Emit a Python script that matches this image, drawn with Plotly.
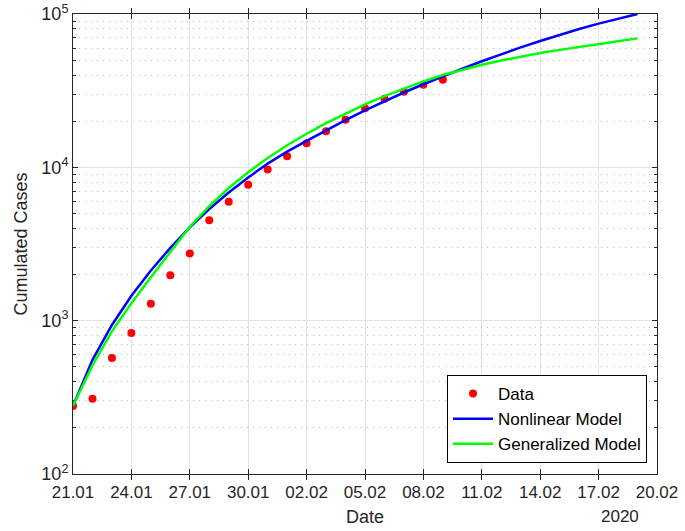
import pandas as pd
import plotly.graph_objects as go

start_date = "2020-01-21"

# Observed cumulated cases (one per day from 21.01)
data_days = list(range(20))
data_cases = [278, 309, 571, 830, 1287, 1975, 2744, 4515, 5974, 7711,
              9692, 11791, 14380, 17205, 20438, 24324, 28018, 31161, 34546, 37198]

# Model curves (one value per day from 21.01 to 19.02)
model_days = list(range(30))
nonlinear_model = [278, 555, 938, 1452, 2123, 2985, 4055, 5346, 6855, 8590,
                   10570, 12650, 14890, 17460, 20320, 23500, 26980, 30760, 34830, 39260,
                   44060, 49200, 54700, 60530, 66680, 73110, 79800, 86500, 93110, 100000]
generalized_model = [278, 511, 851, 1297, 1919, 2818, 4093, 5585, 7328, 9290,
                     11510, 13930, 16560, 19410, 22490, 25760, 29170, 32730, 36390, 39990,
                     43450, 46670, 49770, 52720, 55590, 58340, 61090, 63830, 66530, 69340]

y_tick_vals = [1e2, 1e3, 1e4, 1e5]
y_tick_text = ["10<sup>2</sup>", "10<sup>3</sup>", "10<sup>4</sup>", "10<sup>5</sup>"]
y_minor_vals = [m * 10 ** e for e in (2, 3, 4) for m in range(2, 10)]

t0 = pd.Timestamp(start_date)
data_x = [t0 + pd.Timedelta(days=d) for d in data_days]
model_x = [t0 + pd.Timedelta(days=d) for d in model_days]

FONT = "Liberation Sans, Arial, sans-serif"
AX = "#262626"

fig = go.Figure()
# empty trace so the minor-grid overlay axis is drawn
fig.add_trace(go.Scatter(x=[], y=[], yaxis="y2", showlegend=False, hoverinfo="skip"))
fig.add_trace(go.Scatter(x=data_x, y=data_cases, mode="markers", name="Data",
                         marker=dict(color="#ff0000", size=8)))
fig.add_trace(go.Scatter(x=model_x, y=nonlinear_model, mode="lines", name="Nonlinear Model",
                         line=dict(color="#0000ff", width=2.5)))
fig.add_trace(go.Scatter(x=model_x, y=generalized_model, mode="lines", name="Generalized Model",
                         line=dict(color="#00ff00", width=2.5)))

fig.update_layout(
    width=685, height=531,
    margin=dict(l=73, r=28, t=14, b=57),
    paper_bgcolor="white", plot_bgcolor="white",
    font=dict(family=FONT, size=18, color=AX),
    showlegend=True,
    legend=dict(x=(647 - 73) / 584, y=(474 - 463) / 460, xanchor="right", yanchor="bottom",
                bgcolor="white", bordercolor="#000000", borderwidth=1,
                font=dict(size=17, color="#000000"), itemwidth=40,
                tracegroupgap=0),
    annotations=[dict(text="2020", xref="paper", yref="paper",
                      x=(620 - 73) / 584, y=-(516.7 - 474) / 460,
                      xanchor="center", yanchor="middle", showarrow=False,
                      font=dict(size=17, color=AX))],
    yaxis2=dict(type="log", range=[2, 5], overlaying="y", side="left",
                tickmode="array", tickvals=y_minor_vals, showticklabels=False,
                ticks="inside", ticklen=3, tickcolor=AX, mirror="allticks",
                showline=False, showgrid=True, gridcolor="#b8b8b8", griddash="1px,5px",
                gridwidth=1, zeroline=False, automargin=False, layer="below traces"),
)

fig.update_xaxes(
    type="date",
    range=[t0, t0 + pd.Timedelta(days=30)],
    tick0=start_date, dtick=3 * 86400000, tickformat="%d.%m",
    ticks="inside", ticklen=5, tickcolor=AX,
    showline=True, linecolor=AX, linewidth=1, mirror="allticks",
    showgrid=True, gridcolor="#e3e3e3", gridwidth=1,
    zeroline=False, automargin=False, ticklabelstandoff=3,
    tickfont=dict(size=17, color=AX),
    title=dict(text="Date", font=dict(size=18, color=AX), standoff=8),
)

fig.update_yaxes(
    selector=dict(overlaying=None),
    type="log", range=[2, 5],
    tickvals=y_tick_vals, ticktext=y_tick_text,
    ticks="inside", ticklen=5, tickcolor=AX,
    showline=True, linecolor=AX, linewidth=1, mirror="allticks",
    showgrid=True, gridcolor="#e3e3e3", gridwidth=1,
    zeroline=False, automargin=False,
    tickfont=dict(size=18, color=AX),
    title=dict(text="Cumulated Cases", font=dict(size=18, color=AX), standoff=9),
)
fig.layout.yaxis2.title = None

fig.write_html("out.html", config={"displayModeBar": False},
               post_script="document.body.style.margin='0px';")
